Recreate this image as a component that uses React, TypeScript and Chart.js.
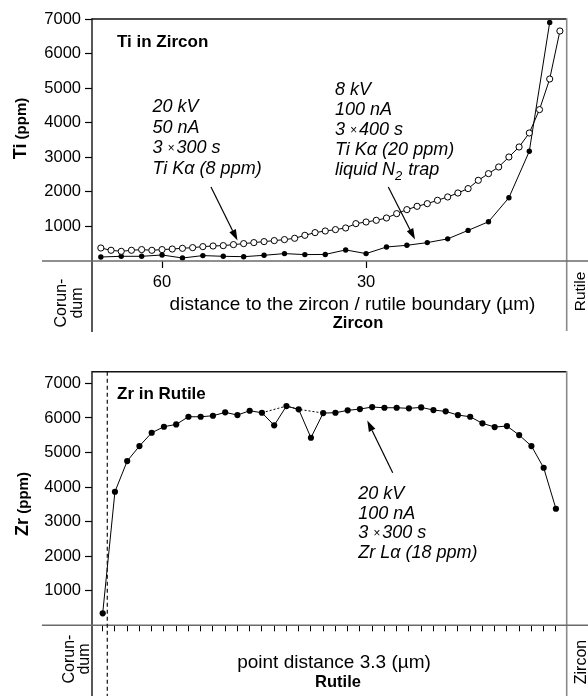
import React, { useEffect, useRef } from "react";
import { Chart, registerables } from "chart.js";
Chart.register(...registerables);

const FONT = '"Liberation Sans", Arial, Helvetica, sans-serif';

// ---------- Top chart: Ti in Zircon ----------
const tiTickValues = [60, 30];
const tiYTickValues = [1000, 2000, 3000, 4000, 5000, 6000, 7000];
// 20 kV / 50 nA (open circles), distance in µm
const tiDistanceOpen = [69, 67.5, 66, 64.5, 63, 61.5, 60, 58.5, 57, 55.5, 54, 52.5, 51, 49.5, 48, 46.5, 45, 43.5, 42, 40.5, 39, 37.5, 36, 34.5, 33, 31.5, 30, 28.5, 27, 25.5, 24, 22.5, 21, 19.5, 18, 16.5, 15, 13.5, 12, 10.5, 9, 7.5, 6, 4.5, 3, 1.5];
const tiOpen = [376, 310, 280, 310, 330, 310, 330, 347, 367, 387, 416, 434, 445, 474, 503, 532, 561, 590, 619, 657, 743, 821, 868, 908, 955, 1081, 1128, 1177, 1244, 1370, 1486, 1582, 1659, 1756, 1852, 1967, 2094, 2334, 2527, 2720, 3008, 3298, 3703, 4379, 5265, 6653];
// 8 kV / 100 nA (filled circles)
const tiDistanceFilled = [69, 66, 63, 60, 57, 54, 51, 48, 45, 42, 39, 36, 33, 30, 27, 24, 21, 18, 15, 12, 9, 6, 3];
const tiFilled = [116, 136, 136, 174, 87, 156, 136, 125, 165, 214, 185, 190, 320, 214, 405, 454, 532, 640, 885, 1135, 1830, 3173, 6900];

// ---------- Bottom chart: Zr in Rutile ----------
const zrPoint = [1, 2, 3, 4, 5, 6, 7, 8, 9, 10, 11, 12, 13, 14, 15, 16, 17, 18, 19, 20, 21, 22, 23, 24, 25, 26, 27, 28, 29, 30, 31, 32, 33, 34, 35, 36, 37, 38];
const zrValues = [347, 3866, 4754, 5188, 5573, 5747, 5815, 6036, 6036, 6065, 6163, 6085, 6210, 6152, 5787, 6345, 6250, 5429, 6143, 6152, 6221, 6259, 6317, 6297, 6297, 6279, 6307, 6230, 6192, 6085, 6036, 5845, 5738, 5767, 5506, 5188, 4560, 3374];
const zrBridge = [14, 16, 17, 19]; // points joined by the dotted line over the two dips
const zrYTickValues = [1000, 2000, 3000, 4000, 5000, 6000, 7000];
const zrBoundary = 1.375; // corundum / rutile boundary (point units)

type Run = { t: string; f?: string; dy?: number; gap?: number };

function runsWidth(ctx: CanvasRenderingContext2D, rs: Run[], base: string) {
  let w = 0;
  for (const r of rs) {
    ctx.font = r.f || base;
    w += ctx.measureText(r.t).width + (r.gap || 0);
  }
  return w;
}
function drawRuns(ctx: CanvasRenderingContext2D, x: number, y: number, rs: Run[], base: string) {
  let cx = x;
  for (const r of rs) {
    ctx.font = r.f || base;
    ctx.fillText(r.t, cx, y + (r.dy || 0));
    cx += ctx.measureText(r.t).width + (r.gap || 0);
  }
}
function drawLines(ctx: CanvasRenderingContext2D, x: number, y0: number, step: number, lines: Run[][], base: string) {
  lines.forEach((rs, i) => drawRuns(ctx, x, y0 + i * step, rs, base));
}
function centered(ctx: CanvasRenderingContext2D, text: string, cx: number, y: number, font: string) {
  ctx.font = font;
  const w = ctx.measureText(text).width;
  ctx.fillText(text, cx - w / 2, y);
}
function rotated(ctx: CanvasRenderingContext2D, rs: Run[], xBase: number, cy: number, base: string) {
  ctx.save();
  ctx.translate(xBase, cy);
  ctx.rotate(-Math.PI / 2);
  const w = runsWidth(ctx, rs, base);
  drawRuns(ctx, -w / 2, 0, rs, base);
  ctx.restore();
}
function seg(ctx: CanvasRenderingContext2D, x1: number, y1: number, x2: number, y2: number, color: string, w: number, dash: number[] = []) {
  ctx.save();
  ctx.strokeStyle = color;
  ctx.lineWidth = w;
  ctx.setLineDash(dash);
  ctx.beginPath();
  ctx.moveTo(x1, y1);
  ctx.lineTo(x2, y2);
  ctx.stroke();
  ctx.restore();
}
function arrow(ctx: CanvasRenderingContext2D, x1: number, y1: number, x2: number, y2: number) {
  const a = Math.atan2(y2 - y1, x2 - x1);
  const len = 11, half = 3.6;
  const bx = x2 - len * Math.cos(a), by = y2 - len * Math.sin(a);
  seg(ctx, x1, y1, bx, by, "#000", 1.2);
  ctx.save();
  ctx.fillStyle = "#000";
  ctx.beginPath();
  ctx.moveTo(x2, y2);
  ctx.lineTo(bx + half * Math.sin(a), by - half * Math.cos(a));
  ctx.lineTo(bx - half * Math.sin(a), by + half * Math.cos(a));
  ctx.closePath();
  ctx.fill();
  ctx.restore();
}

const IT = `italic 18px ${FONT}`;
const IT_SMALL = `italic 12px ${FONT}`;
const IT_SUB = `italic 13px ${FONT}`;
const REG = `19px ${FONT}`;
const BOLD_T = `bold 17px ${FONT}`;
const BOLD_X = `bold 16.5px ${FONT}`;
const ROT = `16px ${FONT}`;

const tiOverlay = {
  id: "tiOverlay",
  afterDraw(chart: any) {
    const { ctx, chartArea: a, width } = chart;
    ctx.save();
    ctx.fillStyle = "#000";
    ctx.textBaseline = "alphabetic";
    ctx.textAlign = "left";
    // frame
    seg(ctx, a.left, a.top, a.right, a.top, "#111", 1.4);
    seg(ctx, a.left, a.top - 0.7, a.left, a.bottom + 71, "#111", 1.4);
    seg(ctx, a.right, a.top - 0.7, a.right, a.bottom + 70, "#8a8a8a", 1.6);
    seg(ctx, 42, a.bottom, width, a.bottom, "#6a6a6a", 1.6);

    drawRuns(ctx, 117, 47, [{ t: "Ti in Zircon" }], BOLD_T);

    drawLines(ctx, 152.5, 112, 20.6, [
      [{ t: "20 kV" }],
      [{ t: "50 nA" }],
      [{ t: "3 " }, { t: "×", f: IT_SMALL, dy: -1, gap: 2 }, { t: "300 s" }],
      [{ t: "Ti Kα (8 ppm)" }],
    ], IT);
    drawLines(ctx, 335, 95, 20, [
      [{ t: "8 kV" }],
      [{ t: "100 nA" }],
      [{ t: "3 " }, { t: "×", f: IT_SMALL, dy: -1, gap: 2 }, { t: "400 s" }],
      [{ t: "Ti Kα (20 ppm)" }],
      [{ t: "liquid N" }, { t: "2", f: IT_SUB, dy: 5, gap: 1 }, { t: " trap" }],
    ], IT);
    arrow(ctx, 211, 187, 237.5, 240.5);
    arrow(ctx, 388.3, 187, 415, 239.5);

    centered(ctx, "distance to the zircon / rutile boundary (µm)", 352.5, 310, REG);
    centered(ctx, "Zircon", 358, 328, BOLD_X);

    rotated(ctx, [{ t: "Ti", f: `bold 18px ${FONT}` }, { t: " (ppm)", f: `bold 15px ${FONT}` }], 26, 128.5, ROT);
    rotated(ctx, [{ t: "Corun-" }], 66, 303, ROT);
    rotated(ctx, [{ t: "dum" }], 82, 303, ROT);
    rotated(ctx, [{ t: "Rutile" }], 585, 291.5, `15.5px ${FONT}`);
    ctx.restore();
  },
};

const zrOverlay = {
  id: "zrOverlay",
  afterDraw(chart: any) {
    const { ctx, chartArea: a, width, height, scales } = chart;
    ctx.save();
    ctx.fillStyle = "#000";
    ctx.textBaseline = "alphabetic";
    ctx.textAlign = "left";
    seg(ctx, a.left, a.top, a.right, a.top, "#111", 1.4);
    seg(ctx, a.left, a.top - 0.7, a.left, height, "#111", 1.4);
    seg(ctx, a.right, a.top - 0.7, a.right, height, "#8a8a8a", 1.6);
    seg(ctx, 42, a.bottom, width, a.bottom, "#6a6a6a", 1.6);
    const bx = scales.x.getPixelForValue(zrBoundary);
    seg(ctx, bx, a.top, bx, height, "#111", 1.2, [4, 3]);

    drawRuns(ctx, 117, 59.3, [{ t: "Zr in Rutile" }], BOLD_T);
    drawLines(ctx, 358.3, 159.3, 19.4, [
      [{ t: "20 kV" }],
      [{ t: "100 nA" }],
      [{ t: "3 " }, { t: "×", f: IT_SMALL, dy: -1, gap: 2 }, { t: "300 s" }],
      [{ t: "Zr Lα (18 ppm)" }],
    ], IT);
    arrow(ctx, 392.7, 132.7, 367.3, 80.5);

    centered(ctx, "point distance 3.3 (µm)", 334, 328, REG);
    centered(ctx, "Rutile", 338, 347, BOLD_X);

    rotated(ctx, [{ t: "Zr", f: `bold 18px ${FONT}` }, { t: " (ppm)", f: `bold 15px ${FONT}` }], 28, 164, ROT);
    rotated(ctx, [{ t: "Corun-" }], 74, 319, ROT);
    rotated(ctx, [{ t: "dum" }], 89, 319, ROT);
    rotated(ctx, [{ t: "Zircon" }], 586, 322, ROT);
    ctx.restore();
  },
};

const tickFont = { family: FONT, size: 16.5 };
const plainLabel = (v: any) => String(v);

function tiConfig(): any {
  return {
    type: "line",
    data: {
      datasets: [
        {
          data: tiDistanceOpen.map((d, i) => ({ x: d, y: tiOpen[i] })),
          borderColor: "#000",
          borderWidth: 1,
          pointRadius: 3.1,
          pointBackgroundColor: "#fff",
          pointBorderColor: "#000",
          pointBorderWidth: 1,
          tension: 0,
        },
        {
          data: tiDistanceFilled.map((d, i) => ({ x: d, y: tiFilled[i] })),
          borderColor: "#000",
          borderWidth: 1,
          pointRadius: 2.7,
          pointBackgroundColor: "#000",
          pointBorderColor: "#000",
          pointBorderWidth: 0,
          tension: 0,
        },
      ],
    },
    options: {
      responsive: false,
      animation: false,
      devicePixelRatio: 1,
      events: [],
      layout: { padding: { left: 0, top: 19, right: 21.3, bottom: 0 } },
      plugins: { legend: { display: false }, tooltip: { enabled: false } },
      scales: {
        x: {
          type: "linear",
          reverse: true,
          min: 0.5,
          max: 70.3,
          afterBuildTicks: (s: any) => { s.ticks = tiTickValues.map((v) => ({ value: v })); },
          afterFit: (s: any) => { s.height = 79; },
          grid: { drawOnChartArea: false, drawTicks: true, tickLength: 7, tickColor: "#000", tickWidth: 1.2 },
          border: { display: false },
          ticks: { color: "#000", font: tickFont, padding: 5, autoSkip: false, maxRotation: 0, callback: plainLabel },
        },
        y: {
          type: "linear",
          min: 0,
          max: 7000,
          afterBuildTicks: (s: any) => { s.ticks = tiYTickValues.map((v) => ({ value: v })); },
          afterFit: (s: any) => { s.width = 92; },
          grid: { drawOnChartArea: false, drawTicks: true, tickLength: 7, tickColor: "#000", tickWidth: 1.2 },
          border: { display: false },
          ticks: { color: "#000", font: tickFont, padding: 4, callback: plainLabel },
        },
      },
    },
    plugins: [tiOverlay],
  };
}

function zrConfig(): any {
  return {
    type: "line",
    data: {
      datasets: [
        {
          data: zrPoint.map((p, i) => ({ x: p, y: zrValues[i] })),
          borderColor: "#000",
          borderWidth: 1,
          pointRadius: 3.1,
          pointBackgroundColor: "#000",
          pointBorderColor: "#000",
          pointBorderWidth: 0,
          tension: 0,
        },
        {
          data: zrBridge.map((p) => ({ x: p, y: zrValues[zrPoint.indexOf(p)] })),
          borderColor: "#000",
          borderWidth: 1,
          borderDash: [2, 2],
          pointRadius: 0,
          tension: 0,
        },
      ],
    },
    options: {
      responsive: false,
      animation: false,
      devicePixelRatio: 1,
      events: [],
      layout: { padding: { left: 0, top: 31.7, right: 21.3, bottom: 0 } },
      plugins: { legend: { display: false }, tooltip: { enabled: false } },
      scales: {
        x: {
          type: "linear",
          min: 0.127,
          max: 38.88,
          afterBuildTicks: (s: any) => { s.ticks = zrPoint.map((v) => ({ value: v })); },
          afterFit: (s: any) => { s.height = 70.7; },
          grid: { drawOnChartArea: false, drawTicks: true, tickLength: 6, tickColor: "#000", tickWidth: 1 },
          border: { display: false },
          ticks: { display: false, autoSkip: false },
        },
        y: {
          type: "linear",
          min: 0,
          max: 7340,
          afterBuildTicks: (s: any) => { s.ticks = zrYTickValues.map((v) => ({ value: v })); },
          afterFit: (s: any) => { s.width = 92; },
          grid: { drawOnChartArea: false, drawTicks: true, tickLength: 7, tickColor: "#000", tickWidth: 1.2 },
          border: { display: false },
          ticks: { color: "#000", font: tickFont, padding: 4, callback: plainLabel },
        },
      },
    },
    plugins: [zrOverlay],
  };
}

export default function App() {
  const r1 = useRef<HTMLCanvasElement>(null);
  const r2 = useRef<HTMLCanvasElement>(null);
  useEffect(() => {
    const c1 = new Chart(r1.current as HTMLCanvasElement, tiConfig());
    const c2 = new Chart(r2.current as HTMLCanvasElement, zrConfig());
    return () => {
      c1.destroy();
      c2.destroy();
    };
  }, []);
  return (
    <div style={{ position: "absolute", left: 0, top: 0, width: 588, height: 696, background: "#fff" }}>
      <canvas ref={r1} width={588} height={340} style={{ position: "absolute", left: 0, top: 0 }} />
      <canvas ref={r2} width={588} height={356} style={{ position: "absolute", left: 0, top: 340 }} />
    </div>
  );
}
